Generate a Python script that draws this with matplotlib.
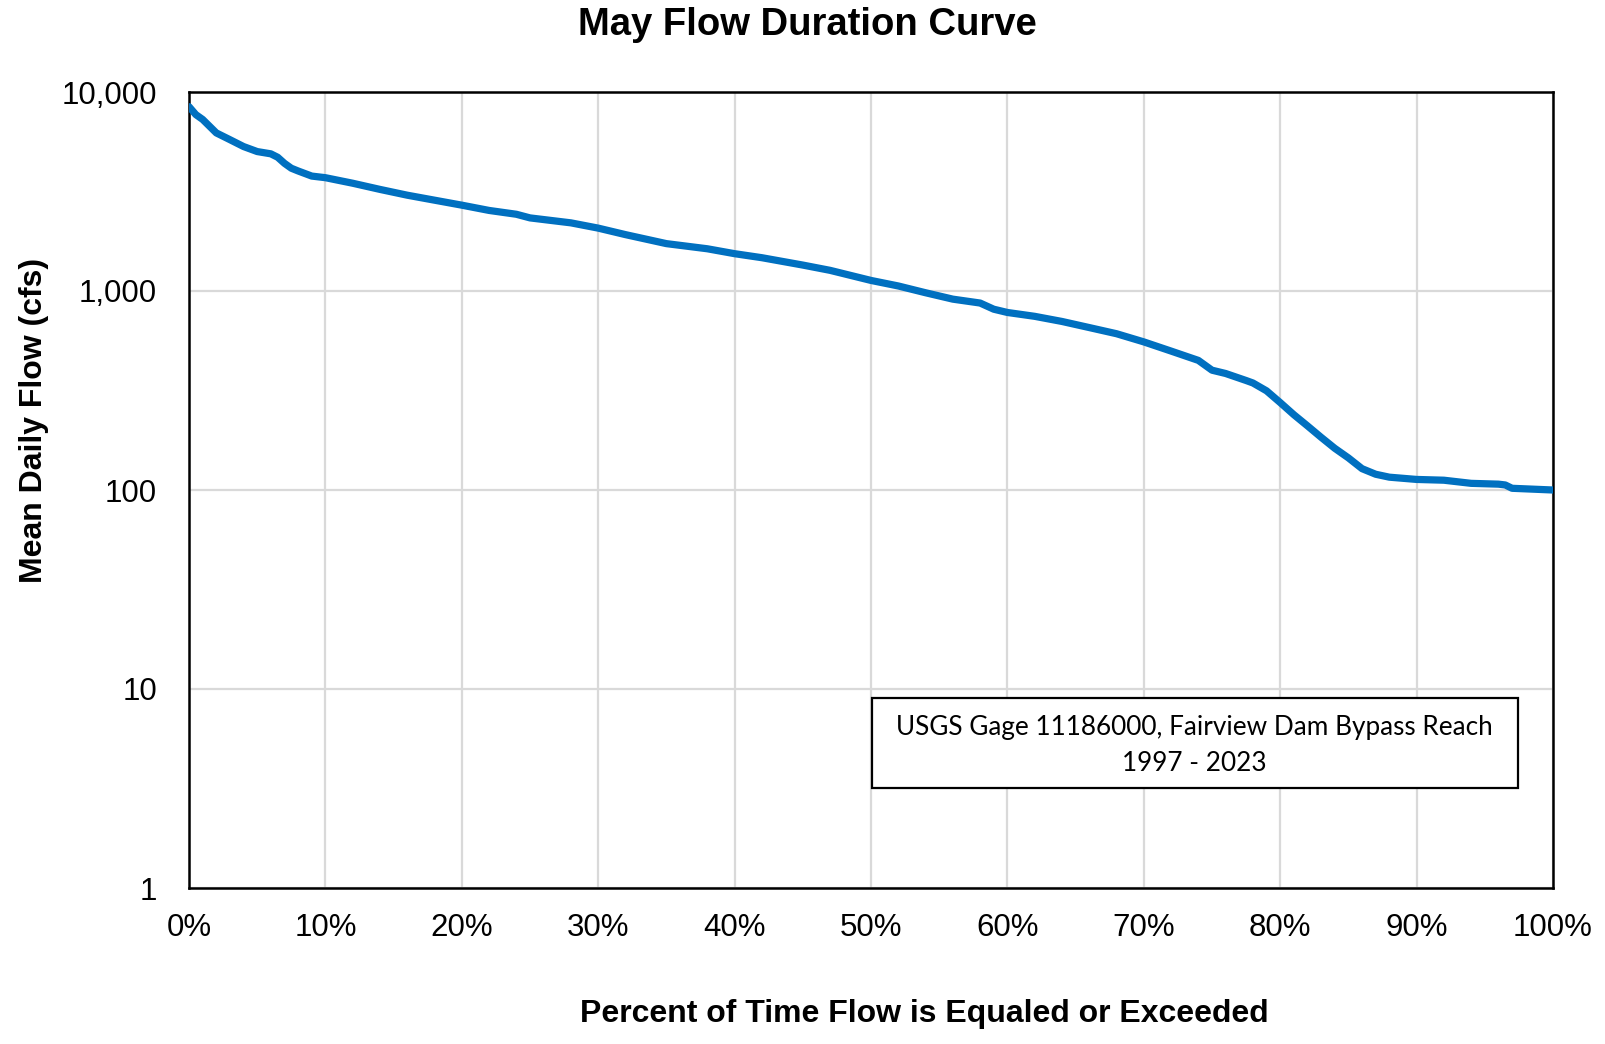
#!/usr/bin/env python

import matplotlib.pyplot as plt
from matplotlib.ticker import FixedLocator, FuncFormatter
from matplotlib.patches import Rectangle

# values
pct_exceeded = [0, 0.5, 1, 2, 3, 4, 5, 6, 6.5, 7, 7.5, 8, 9, 10, 12, 14, 16, 18, 20,
                22, 24, 25, 28, 30, 32, 35, 38, 40, 42, 45, 47, 50, 52, 54, 56, 58,
                59, 60, 62, 64, 66, 68, 70, 72, 74, 75, 76, 77.5, 78, 79, 80, 81,
                82, 83, 84, 85, 86, 87, 88, 90, 92, 94, 96, 96.5, 97, 100]
flow_cfs = [8440, 7700, 7280, 6230, 5760, 5320, 5020, 4890, 4700, 4380, 4140, 4010,
            3780, 3710, 3480, 3240, 3030, 2860, 2700, 2540, 2430, 2330, 2200, 2070,
            1920, 1730, 1630, 1540, 1470, 1350, 1270, 1130, 1060, 980, 910, 870,
            810, 780, 746, 703, 655, 610, 555, 499, 448, 400, 385, 355, 345, 315,
            275, 239, 210, 184, 162, 145, 128, 120, 116, 113, 112, 108, 107, 106,
            102, 100]

y_ticks = [1, 10, 100, 1000, 10000]
x_ticks = list(range(0, 101, 10))
note_lines = ['USGS Gage 11186000, Fairview Dam Bypass Reach', '1997 - 2023']

plt.rcParams['font.family'] = ['Liberation Sans', 'DejaVu Sans']

fig = plt.figure(figsize=(16.06, 10.44), dpi=100)
ax = fig.add_axes([189 / 1606, 1 - 888 / 1044, 1364 / 1606, 796 / 1044])

ax.plot(pct_exceeded, flow_cfs, color='#0070C0', linewidth=5.2,
        solid_capstyle='round', solid_joinstyle='round', zorder=3)

ax.set_yscale('log')
ax.set_ylim(1, 10000)
ax.set_xlim(0, 100)
ax.yaxis.set_major_locator(FixedLocator(y_ticks))
ax.yaxis.set_minor_locator(FixedLocator([]))
ax.yaxis.set_major_formatter(FuncFormatter(lambda v, p: f'{v:,.0f}'))
ax.xaxis.set_major_locator(FixedLocator(x_ticks))
ax.xaxis.set_major_formatter(FuncFormatter(lambda v, p: f'{v:.0f}%'))

ax.grid(True, color='#D9D9D9', linewidth=1.6)
ax.set_axisbelow(True)
ax.tick_params(length=0, labelsize=22.5, colors='black')
ax.tick_params(axis='x', pad=18)
ax.tick_params(axis='y', pad=23)
for s in ax.spines.values():
    s.set_linewidth(1.8)
    s.set_color('black')

ax.set_xlabel('Percent of Time Flow is Equaled or Exceeded', fontsize=23,
              fontweight='bold')
ax.xaxis.set_label_coords(0.539, -0.139)
ax.set_ylabel('Mean Daily Flow (cfs)', fontsize=23, fontweight='bold')
ax.yaxis.set_label_coords(-0.103, 0.587)

fig.text(807 / 1606, 1 - 25 / 1044, 'May Flow Duration Curve', fontsize=27.5,
         fontweight='bold', ha='center', va='center')

# annotation box
ax.add_patch(Rectangle((0.501, 0.126), 0.473, 0.113, transform=ax.transAxes,
                       facecolor='white', edgecolor='black', linewidth=1.6,
                       zorder=4))
ax.text(0.737, 0.202, note_lines[0], transform=ax.transAxes, ha='center',
        va='center', fontsize=18.8, family=['Lato', 'DejaVu Sans'], zorder=5)
ax.text(0.737, 0.157, note_lines[1], transform=ax.transAxes, ha='center',
        va='center', fontsize=18.8, family=['Lato', 'DejaVu Sans'], zorder=5)

fig.savefig('out.png', dpi=100)
